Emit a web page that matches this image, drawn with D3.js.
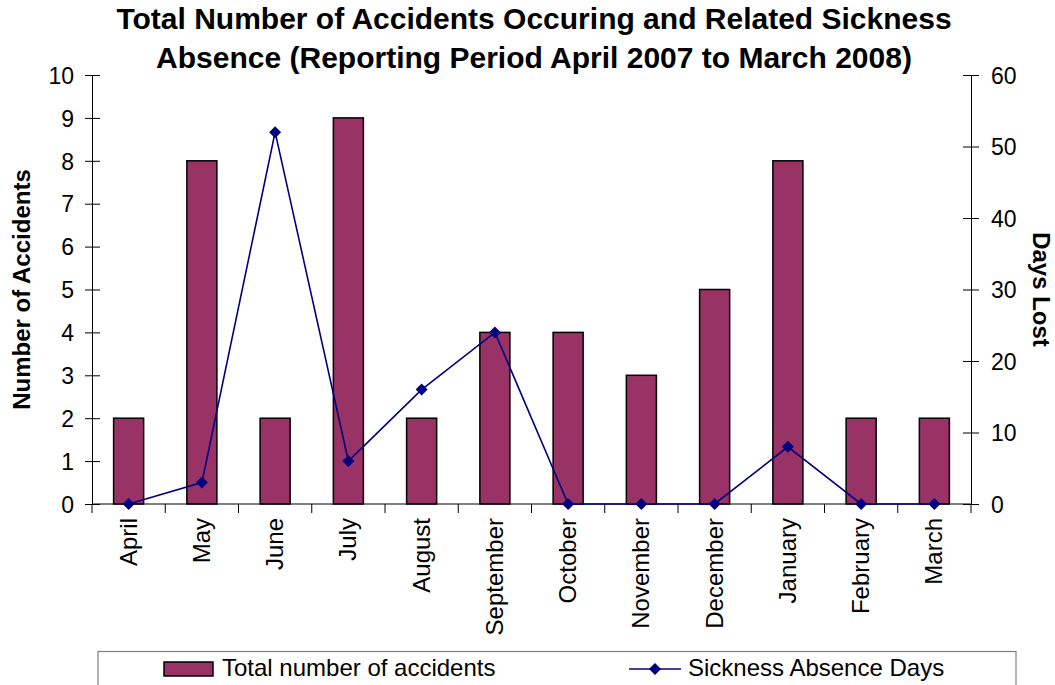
<!DOCTYPE html>
<html>
<head>
<meta charset="utf-8">
<script src="https://cdn.jsdelivr.net/npm/d3@7"></script>
<style>
  html, body { margin: 0; padding: 0; background: #fff; }
  svg { display: block; font-family: "Liberation Sans", Arial, sans-serif; }
</style>
</head>
<body>
<svg id="chart" width="1055" height="685"></svg>
<script>
const months = ["April","May","June","July","August","September","October","November","December","January","February","March"];
const accidents = [2, 8, 2, 9, 2, 4, 4, 3, 5, 8, 2, 2];
const daysLost = [0, 3, 52, 6, 16, 24, 0, 0, 0, 8, 0, 0];
const leftTicks = [0,1,2,3,4,5,6,7,8,9,10];
const rightTicks = [0,10,20,30,40,50,60];
const titleLines = ["Total Number of Accidents Occuring and Related Sickness",
                    "Absence (Reporting Period April 2007 to March 2008)"];
const seriesNames = ["Total number of accidents", "Sickness Absence Days"];

const svg = d3.select("#chart");
const L = 92, R = 971, T = 75, B = 504;

const x = d3.scaleBand().domain(months).range([L, R]).padding(0);
const yL = d3.scaleLinear().domain([0, 10]).range([B, T]);
const yR = d3.scaleLinear().domain([0, 60]).range([B, T]);

// Title
svg.append("g").selectAll("text").data(titleLines).join("text")
  .attr("x", 534).attr("y", (d, i) => 29 + i * 39)
  .attr("text-anchor", "middle")
  .attr("font-size", 30).attr("font-weight", "bold")
  .attr("fill", "#000")
  .text(d => d);

// Bars
const bw = x.bandwidth() * 0.41;
svg.append("g").selectAll("rect").data(months).join("rect")
  .attr("x", (d) => x(d) + x.bandwidth() / 2 - bw / 2)
  .attr("y", (d, i) => yL(accidents[i]))
  .attr("width", bw)
  .attr("height", (d, i) => B - yL(accidents[i]))
  .attr("fill", "#993366")
  .attr("stroke", "#000").attr("stroke-width", 1.5);

// Left axis
const gL = svg.append("g").attr("transform", `translate(${L},0)`)
  .call(d3.axisLeft(yL).tickValues(leftTicks).tickSizeInner(7).tickSizeOuter(0).tickPadding(11));
gL.selectAll(".tick line").attr("x1", 8);
gL.selectAll("text").attr("font-size", 23).attr("font-family", "'Liberation Sans', Arial, sans-serif").attr("fill", "#000").attr("dy", "0.36em");
gL.select(".domain").attr("stroke", "#000");

// Right axis
const gR = svg.append("g").attr("transform", `translate(${R},0)`)
  .call(d3.axisRight(yR).tickValues(rightTicks).tickSizeInner(8).tickSizeOuter(0).tickPadding(12));
gR.selectAll(".tick line").attr("x1", -8);
gR.selectAll("text").attr("font-size", 23).attr("font-family", "'Liberation Sans', Arial, sans-serif").attr("fill", "#000").attr("dy", "0.36em");
gR.select(".domain").attr("stroke", "#000");

// X axis baseline and boundary ticks
const gX = svg.append("g");
gX.append("line").attr("x1", L).attr("x2", R).attr("y1", B).attr("y2", B).attr("stroke", "#000");
const bounds = months.map(m => x(m)).concat([x.range()[1]]);
gX.selectAll("line.tk").data(bounds).join("line").attr("class", "tk")
  .attr("x1", d => d).attr("x2", d => d).attr("y1", B).attr("y2", B + 9)
  .attr("stroke", "#000");
gX.selectAll("text").data(months).join("text")
  .attr("transform", d => `translate(${x(d) + x.bandwidth() / 2 + 8},${B + 14}) rotate(-90)`)
  .attr("text-anchor", "end")
  .attr("font-size", 24).attr("fill", "#000")
  .text(d => d);

// Line series
const line = d3.line().x((d, i) => x(months[i]) + x.bandwidth() / 2).y(d => yR(d));
svg.append("path").datum(daysLost)
  .attr("d", line).attr("fill", "none").attr("stroke", "#000080").attr("stroke-width", 1.6);
const marker = d3.symbol().type(d3.symbolSquare).size(72);
svg.append("g").selectAll("path").data(daysLost).join("path")
  .attr("transform", (d, i) => `translate(${x(months[i]) + x.bandwidth() / 2},${yR(d)}) rotate(45)`)
  .attr("d", marker).attr("fill", "#000080");

// Axis titles
svg.append("text")
  .attr("transform", `translate(30,${(T + B) / 2}) rotate(-90)`)
  .attr("text-anchor", "middle").attr("font-size", 24).attr("font-weight", "bold")
  .text("Number of Accidents");
svg.append("text")
  .attr("transform", `translate(1033,${(T + B) / 2}) rotate(90)`)
  .attr("text-anchor", "middle").attr("font-size", 24).attr("font-weight", "bold")
  .text("Days Lost");

// Legend
const lg = svg.append("g");
lg.append("rect").attr("x", 98).attr("y", 651.5).attr("width", 918).attr("height", 60)
  .attr("fill", "#fff").attr("stroke", "#808080").attr("stroke-width", 1.2);
lg.append("rect").attr("x", 164).attr("y", 662).attr("width", 49).attr("height", 14)
  .attr("fill", "#993366").attr("stroke", "#000").attr("stroke-width", 1.5);
lg.append("text").attr("x", 222).attr("y", 676).attr("font-size", 24).text(seriesNames[0]);
lg.append("line").attr("x1", 629).attr("x2", 681).attr("y1", 669).attr("y2", 669)
  .attr("stroke", "#000080").attr("stroke-width", 1.6);
lg.append("path").attr("transform", "translate(655,669) rotate(45)").attr("d", marker).attr("fill", "#000080");
lg.append("text").attr("x", 688).attr("y", 676).attr("font-size", 24).text(seriesNames[1]);
</script>
</body>
</html>
